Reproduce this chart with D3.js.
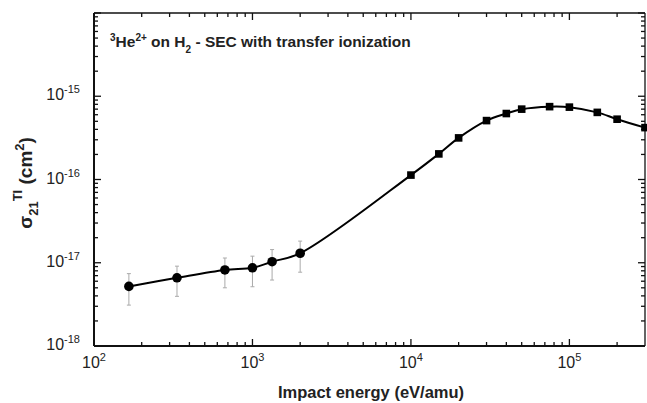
<!DOCTYPE html>
<html>
<head>
<meta charset="utf-8">
<script src="https://cdn.jsdelivr.net/npm/d3@7"></script>
<style>
  body { margin: 0; background: #fff; }
  text { font-family: "Liberation Sans", Arial, Helvetica, sans-serif; fill: #222; }
  .tick-label { font-family: "Liberation Sans Narrow", "Arial Narrow", "Liberation Sans", sans-serif; }
</style>
</head>
<body>
<svg width="647" height="403"></svg>
<script>
// low energy data (circles, with error bars)
var lowE = [166, 334, 670, 1000, 1330, 2000];
var lowS = [5.2e-18, 6.6e-18, 8.2e-18, 8.7e-18, 1.03e-17, 1.3e-17];
var lowHi = [7.4e-18, 9.1e-18, 1.14e-17, 1.2e-17, 1.44e-17, 1.82e-17];
var lowLo = [3.1e-18, 3.95e-18, 5.0e-18, 5.15e-18, 6.2e-18, 7.7e-18];
// high energy data (squares)
var highE = [1e4, 1.5e4, 2e4, 3e4, 4e4, 5e4, 7.5e4, 1e5, 1.5e5, 2e5, 3e5];
var highS = [1.13e-16, 2.03e-16, 3.16e-16, 5.1e-16, 6.2e-16, 7.0e-16, 7.5e-16, 7.4e-16, 6.4e-16, 5.3e-16, 4.2e-16];
var xTicks = [1e2, 1e3, 1e4, 1e5];
var yTicks = [1e-18, 1e-17, 1e-16, 1e-15];

var svg = d3.select("svg"),
    m = {left: 94, right: 2, top: 13, bottom: 57},
    width = 647 - m.left - m.right,
    height = 403 - m.top - m.bottom;

var x = d3.scaleLog().domain([100, 3e5]).range([m.left, m.left + width]);
var y = d3.scaleLog().domain([1e-18, 1e-14]).range([m.top + height, m.top]);

function minors(lo, hi) {
  var out = [];
  for (var p = Math.floor(Math.log10(lo)); p <= Math.ceil(Math.log10(hi)); p++)
    for (var k = 2; k <= 9; k++) {
      var v = k * Math.pow(10, p);
      if (v > lo && v < hi) out.push(v);
    }
  return out;
}
var xMin = minors(100, 3e5), yMin = minors(1e-18, 1e-14);
var yMaj = [1e-18, 1e-17, 1e-16, 1e-15, 1e-14];

var g = svg.append("g").attr("stroke", "#111").attr("stroke-width", 1.3);

// frame lines (bottom + left heavier)
g.append("line").attr("x1", m.left).attr("x2", m.left + width).attr("y1", m.top + height).attr("y2", m.top + height).attr("stroke-width", 2);
g.append("line").attr("x1", m.left).attr("x2", m.left).attr("y1", m.top).attr("y2", m.top + height).attr("stroke-width", 2);
g.append("line").attr("x1", m.left).attr("x2", m.left + width).attr("y1", m.top).attr("y2", m.top).attr("stroke-width", 1.3);
g.append("line").attr("x1", m.left + width).attr("x2", m.left + width).attr("y1", m.top).attr("y2", m.top + height).attr("stroke-width", 1.3);

// ticks, inward on all four sides
function xt(vals, len) {
  vals.forEach(function(v) {
    g.append("line").attr("x1", x(v)).attr("x2", x(v)).attr("y1", m.top + height).attr("y2", m.top + height - len);
    g.append("line").attr("x1", x(v)).attr("x2", x(v)).attr("y1", m.top).attr("y2", m.top + len);
  });
}
function yt(vals, len) {
  vals.forEach(function(v) {
    g.append("line").attr("y1", y(v)).attr("y2", y(v)).attr("x1", m.left).attr("x2", m.left + len);
    g.append("line").attr("y1", y(v)).attr("y2", y(v)).attr("x1", m.left + width).attr("x2", m.left + width - len);
  });
}
xt(xTicks, 7); xt(xMin, 4);
yt(yMaj, 7); yt(yMin, 4);

// tick labels
xTicks.forEach(function(v) {
  var t = svg.append("text").attr("class", "tick-label").attr("x", x(v)).attr("y", m.top + height + 22)
    .attr("text-anchor", "middle").attr("font-size", 16);
  t.append("tspan").text("10");
  t.append("tspan").attr("dy", -7).attr("font-size", 11).text(Math.round(Math.log10(v)));
});
yTicks.forEach(function(v) {
  var t = svg.append("text").attr("class", "tick-label").attr("x", 80).attr("y", y(v) + 4)
    .attr("text-anchor", "end").attr("font-size", 16);
  t.append("tspan").text("10");
  t.append("tspan").attr("dy", -7).attr("font-size", 11).text(Math.round(Math.log10(v)));
});

// axis titles
svg.append("text").attr("x", 371).attr("y", 398).attr("text-anchor", "middle")
  .attr("font-size", 16.5).attr("font-weight", "bold").text("Impact energy (eV/amu)");

var yl = svg.append("text").attr("transform", "translate(32,183) rotate(-90)")
  .attr("text-anchor", "middle").attr("font-size", 19).attr("font-weight", "bold");
yl.append("tspan").text("σ");
yl.append("tspan").attr("dy", 6).attr("font-size", 13).text("21");
yl.append("tspan").attr("dy", -16).attr("font-size", 13).text("TI");
yl.append("tspan").attr("dy", 10).text(" (cm");
yl.append("tspan").attr("dy", -8).attr("font-size", 13).text("2");
yl.append("tspan").attr("dy", 8).text(")");

// title
var tt = svg.append("text").attr("x", 110).attr("y", 47).attr("font-size", 15.5).attr("font-weight", "bold");
tt.append("tspan").attr("dy", -6).attr("font-size", 10).text("3");
tt.append("tspan").attr("dy", 6).text("He");
tt.append("tspan").attr("dy", -6).attr("font-size", 10).text("2+");
tt.append("tspan").attr("dy", 6).text(" on H");
tt.append("tspan").attr("dy", 6).attr("font-size", 10).text("2");
tt.append("tspan").attr("dy", -6).text(" - SEC with transfer ionization");

// error bars
var eb = svg.append("g").attr("stroke", "#aaa").attr("stroke-width", 1);
lowE.forEach(function(e, i) {
  eb.append("line").attr("x1", x(e)).attr("x2", x(e)).attr("y1", y(lowHi[i])).attr("y2", y(lowLo[i]));
  [lowHi[i], lowLo[i]].forEach(function(v) {
    eb.append("line").attr("x1", x(e) - 2).attr("x2", x(e) + 2).attr("y1", y(v)).attr("y2", y(v));
  });
});

// fitted curve through all points
var pts = lowE.map(function(e, i) { return [e, lowS[i]]; })
  .concat(highE.map(function(e, i) { return [e, highS[i]]; }));
var line = d3.line().x(function(d) { return x(d[0]); }).y(function(d) { return y(d[1]); })
  .curve(d3.curveCatmullRom.alpha(0.5));
svg.append("path").datum(pts).attr("d", line).attr("fill", "none")
  .attr("stroke", "#000").attr("stroke-width", 2);

// markers
svg.selectAll("circle.low").data(lowE).enter().append("circle")
  .attr("cx", function(d) { return x(d); })
  .attr("cy", function(d, i) { return y(lowS[i]); })
  .attr("r", 4.8).attr("fill", "#000");
svg.selectAll("rect.high").data(highE).enter().append("rect")
  .attr("x", function(d) { return x(d) - 3.8; })
  .attr("y", function(d, i) { return y(highS[i]) - 3.8; })
  .attr("width", 7.6).attr("height", 7.6).attr("fill", "#000");
</script>
</body>
</html>
